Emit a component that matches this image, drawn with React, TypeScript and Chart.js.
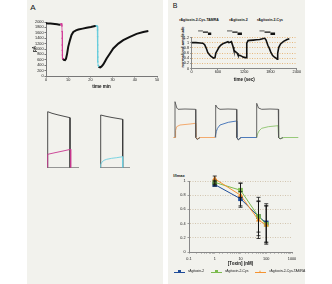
import React, { useEffect, useRef } from 'react';
import { Chart, registerables } from 'chart.js';

Chart.register(...registerables);

const FONT = "'Liberation Sans', Arial, Helvetica, sans-serif";
Chart.defaults.font.family = FONT;

// ---------------- Panel A (top): holding current vs time ----------------
const aXTicks = [0, 10, 20, 30, 40, 50];
const aYTicks = [0, 200, 400, 600, 800, 1000, 1200, 1400, 1600, 1800, 2000];
const aTimeMin = [0, 1, 2, 3, 4, 5, 6, 6.6, 6.7, 7.6, 8.0, 8.55, 9.0, 9.5, 10.0, 10.8, 11.5, 12.3, 13.5, 14.6, 16.5, 18.3, 20.2, 22.1, 22.6, 22.7, 23.7, 24.0, 24.5, 25.0, 25.8, 26.5, 27.3, 28.8, 30.3, 32.6, 34.8, 37.8, 40.8, 43.8, 46.1];
const aCurrentPA = [1950, 1945, 1940, 1932, 1925, 1915, 1900, 1905, null, 640, 600, 590, 640, 820, 1080, 1330, 1520, 1630, 1690, 1720, 1755, 1785, 1815, 1850, 1855, null, 360, 330, 320, 350, 430, 530, 650, 835, 1020, 1200, 1325, 1450, 1560, 1630, 1665];
const aTox1TimeMin = [6.6, 6.9, 7.1, 7.2, 7.25, 7.3, 7.3, 7.35, 7.4, 7.5, 7.6];
const aTox1PA = [1905, 1935, 1925, 1850, 1650, 1400, 1150, 950, 780, 660, 640];
const aTox2TimeMin = [22.6, 22.9, 23.1, 23.2, 23.25, 23.3, 23.3, 23.35, 23.4, 23.5, 23.7];
const aTox2PA = [1855, 1860, 1845, 1700, 1450, 1150, 900, 700, 520, 400, 360];

// ---------------- Panel A (bottom): current sweeps (ms, nA) ----------------
const aSw1CtrlT = [77, 77, 120, 180, 240, 300, 300];
const aSw1CtrlI = [0, 5.58, 5.42, 5.26, 5.12, 4.98, 0];
const aSw1ToxT = [77, 77, 150, 230, 307, 307];
const aSw1ToxI = [0, 1.32, 1.48, 1.65, 1.82, 0];
const aSw2CtrlT = [607, 607, 660, 720, 780, 827, 827];
const aSw2CtrlI = [0, 5.25, 5.12, 5.0, 4.9, 4.82, 0];
const aSw2ToxT = [607, 607, 620, 640, 667, 717, 767, 827, 827];
const aSw2ToxI = [0, 0.3, 0.55, 0.72, 0.82, 0.92, 0.98, 1.08, 0];
const aBaseT = [70, 390, 495, 600, 900];
const aBaseI = [0, 0, null, 0, 0];

// ---------------- Panel B (top): normalized amplitude vs time ----------------
const bToxinTitles = ['rAgitoxin-2-Cys-TAMRA', 'rAgitoxin-2', 'rAgitoxin-2-Cys'];
const bXTicks = [0, 600, 1200, 1800, 2400];
const bYTicks = [0, 0.2, 0.4, 0.6, 0.8, 1, 1.2];
const bTimeSec = [0, 100, 200, 260, 300, 335, 370, 410, 445, 505, 535, 555, 595, 630, 680, 740, 800, 830, 850, 880, 910, 950, 965, 1000, 1040, 1060, 1110, 1150, 1180, 1230, 1245, 1260, 1290, 1330, 1410, 1480, 1555, 1620, 1665, 1700, 1740, 1775, 1810, 1850, 1885, 1925, 1955, 1965, 1990, 2030, 2100, 2180, 2230];
const bAmplitude = [1.0, 1.0, 0.99, 0.98, 0.92, 0.79, 0.62, 0.53, 0.47, 0.4, 0.42, 0.6, 0.72, 0.83, 0.92, 0.98, 1.02, 1.04, 1.0, 1.02, 1.04, 0.83, 0.72, 0.65, 0.6, 0.52, 0.5, 0.47, 0.44, 0.42, 0.42, 0.98, 1.08, 1.09, 1.1, 1.11, 1.12, 1.15, 1.18, 1.1, 0.9, 0.78, 0.62, 0.5, 0.45, 0.4, 0.36, 0.6, 0.82, 0.95, 1.05, 1.12, 1.15];
// concentration-step glyphs: start, step2, step3, end (s)
const bRampTimes = [[150, 260, 375, 450], [810, 930, 1050, 1150], [1550, 1665, 1800, 1905]];
const bRampLevels = [1.455, 1.405, 1.347];

// ---------------- Panel B (middle): current sweeps (ms, nA) ----------------
const bCtrl1T = [100, 100, 118, 130, 200, 305, 308, 322, 350];
const bCtrl1I = [0, 3.58, 2.95, 2.82, 2.85, 2.82, 0, -0.2, 0];
const bTox1T = [83, 100, 106, 117, 150, 250, 305, 308, 320, 350, 500];
const bTox1I = [0, 0, 0.7, 1.08, 1.25, 1.35, 1.42, 0, -0.15, 0, 0];
const bCtrl2T = [507, 507, 525, 550, 630, 715, 718, 733, 760];
const bCtrl2I = [0, 3.25, 2.95, 2.82, 2.85, 2.82, 0, -0.25, 0];
const bTox2T = [500, 507, 513, 525, 550, 633, 715, 718, 733, 760, 917];
const bTox2I = [0, 0, 0.6, 0.92, 1.25, 1.52, 1.65, 0, -0.2, 0, 0];
const bCtrl3T = [917, 917, 935, 967, 1050, 1133, 1136, 1150, 1180];
const bCtrl3I = [0, 3.42, 2.95, 2.82, 2.85, 2.82, 0, -0.15, 0];
const bTox3T = [917, 925, 940, 967, 1033, 1130, 1136, 1155, 1190, 1333];
const bTox3I = [0, 0.35, 0.65, 0.92, 1.08, 1.18, 0, -0.1, 0, 0];

// ---------------- Panel B (bottom): dose-response ----------------
const doseConcNM = [1, 10, 50, 100];
const doseYTicks = [0, 0.2, 0.4, 0.6, 0.8, 1];
const doseLabels = ['rAgitoxin-2', 'rAgitoxin-2-Cys', 'rAgitoxin-2-Cys-TAMRA'];
const doseColors = ['#1f4c99', '#7cbb4e', '#f59331'];
const doseMarkers = ['rect', 'rect', 'triangle'];
const agtx2 = [0.95, 0.75, 0.5, 0.41];
const agtx2Err = [0.02, 0.1, 0.22, 0.27];
const agtx2Cys = [0.98, 0.87, 0.5, 0.39];
const agtx2CysErr = [0.03, 0.1, 0.27, 0.26];
const agtx2CysTamra = [1.03, 0.8, 0.45, 0.38];
const agtx2CysTamraErr = [0.04, 0.17, 0.26, 0.27];

const pts = (xs: number[], ys: (number | null)[]) => xs.map((x, i) => ({ x, y: ys[i] }));

const tickFont = { family: FONT, size: 3.8 };
const titleFont = { family: FONT, size: 4.5, weight: 'bold' as const };
const BG = '#f2f2ed';

const base = () => ({
  responsive: false,
  animation: false as const,
  devicePixelRatio: 1,
  events: [] as any[],
  plugins: { legend: { display: false }, tooltip: { enabled: false } },
});

const fixedTicks = (vals: number[]) => (s: any) => {
  s.ticks = vals.map((v) => ({ value: v }));
};

function configATop() {
  return {
    type: 'line',
    data: {
      datasets: [
        { data: pts(aTox1TimeMin, aTox1PA), borderColor: '#d23b98', backgroundColor: '#d23b98', borderWidth: 0.8, pointRadius: 0.8, pointBorderWidth: 0 },
        { data: pts(aTox2TimeMin, aTox2PA), borderColor: '#64cbdc', backgroundColor: '#64cbdc', borderWidth: 0.8, pointRadius: 0.8, pointBorderWidth: 0 },
        { data: pts(aTimeMin, aCurrentPA), borderColor: '#111', borderWidth: 2, pointRadius: 0, spanGaps: false },
      ],
    },
    options: {
      ...base(),
      layout: { padding: { top: 8, right: 5, left: 0, bottom: 0 } },
      scales: {
        x: {
          type: 'linear', min: 0, max: 50, afterBuildTicks: fixedTicks(aXTicks),
          ticks: { font: tickFont, color: '#222', padding: 0, maxRotation: 0, autoSkip: false, callback: (v: any) => String(v) },
          grid: { drawOnChartArea: false, tickLength: 1.5, color: '#777' },
          border: { color: '#777' },
          title: { display: true, text: 'time min', font: titleFont, color: '#111', padding: { top: 0, bottom: 1 } },
          afterFit: (s: any) => { s.height = 14; },
        },
        y: {
          type: 'linear', min: 0, max: 2000, afterBuildTicks: fixedTicks(aYTicks),
          ticks: { font: tickFont, color: '#222', padding: 1, autoSkip: false, callback: (v: any) => String(v) },
          grid: { drawOnChartArea: false, tickLength: 1.5, color: '#777' },
          border: { color: '#777' },
          title: { display: true, text: 'pA', font: titleFont, color: '#111', padding: { top: 4.3, bottom: 0 } },
          afterFit: (s: any) => { s.width = 18; },
        },
      },
    },
  };
}

function hiddenScales(xmin: number, xmax: number, ymin: number, ymax: number) {
  return {
    x: { type: 'linear', display: false, min: xmin, max: xmax },
    y: { type: 'linear', display: false, min: ymin, max: ymax },
  };
}

const traceDs = (xs: number[], ys: (number | null)[], color: string, width = 0.9) => ({
  data: pts(xs, ys), borderColor: color, backgroundColor: color, borderWidth: width, pointRadius: 0, clip: false as const, spanGaps: false,
});

function configABottom() {
  return {
    type: 'line',
    data: {
      datasets: [
        traceDs(aSw1ToxT, aSw1ToxI, '#c8378f'),
        traceDs(aSw2ToxT, aSw2ToxI, '#6fd0e0'),
        traceDs(aSw1CtrlT, aSw1CtrlI, '#3a3a3a'),
        traceDs(aSw2CtrlT, aSw2CtrlI, '#3a3a3a'),
        traceDs(aBaseT, aBaseI, '#8a8a8a'),
      ],
    },
    options: { ...base(), layout: { padding: 0 }, scales: hiddenScales(0, 950, -0.45, 6.25) },
  };
}

function rampDataset(level: number, idx: number, width: number) {
  const data: any[] = [];
  bRampTimes.forEach((r) => {
    data.push({ x: r[idx], y: level }, { x: r[idx + 1], y: level }, { x: r[idx + 1], y: null });
  });
  return { data, borderColor: '#111', borderWidth: width, pointRadius: 0, clip: false as const, spanGaps: false };
}

function configBTop() {
  return {
    type: 'line',
    data: {
      datasets: [
        { data: pts(bTimeSec, bAmplitude), borderColor: '#111', borderWidth: 1.6, pointRadius: 0 },
        rampDataset(bRampLevels[0], 0, 0.7),
        rampDataset(bRampLevels[1], 1, 1.2),
        rampDataset(bRampLevels[2], 2, 2.6),
      ],
    },
    options: {
      ...base(),
      layout: { padding: { top: 7.5, right: 4, left: 0, bottom: 0 } },
      scales: {
        x: {
          type: 'linear', min: 0, max: 2400, afterBuildTicks: fixedTicks(bXTicks),
          ticks: { font: tickFont, color: '#222', padding: 0, maxRotation: 0, autoSkip: false, callback: (v: any) => String(v) },
          grid: { drawOnChartArea: false, tickLength: 1.5, color: '#888' },
          border: { color: '#888' },
          title: { display: true, text: 'time (sec)', font: titleFont, color: '#111', padding: { top: 0, bottom: 0.3 } },
          afterFit: (s: any) => { s.height = 14.5; },
        },
        y: {
          type: 'linear', min: 0, max: 1.2, afterBuildTicks: fixedTicks(bYTicks),
          ticks: { font: tickFont, color: '#222', padding: 1, autoSkip: false, callback: (v: any) => String(Math.round(v * 10) / 10) },
          grid: { color: '#e2a862', lineWidth: 0.8, tickLength: 1.5, tickColor: '#888' },
          border: { color: '#888', dash: [1, 1.5] },
          afterFit: (s: any) => { s.width = 11.5; },
        },
      },
    },
  };
}

function configBMiddle() {
  return {
    type: 'line',
    data: {
      datasets: [
        traceDs(bCtrl1T, bCtrl1I, '#555'),
        traceDs(bCtrl2T, bCtrl2I, '#555'),
        traceDs(bCtrl3T, bCtrl3I, '#555'),
        traceDs(bTox1T, bTox1I, '#f3a25f'),
        traceDs(bTox2T, bTox2I, '#3b6db5'),
        traceDs(bTox3T, bTox3I, '#8cc46c'),
      ],
    },
    options: { ...base(), layout: { padding: 0 }, scales: hiddenScales(0, 1350, -0.75, 4.25) },
  };
}

const errorBars = {
  id: 'errorBars',
  afterDatasetsDraw(chart: any) {
    const { ctx, scales } = chart;
    const x = scales.x, y = scales.y;
    ctx.save();
    ctx.strokeStyle = '#111';
    ctx.lineWidth = 0.8;
    chart.data.datasets.forEach((ds: any) => {
      ds.data.forEach((p: any, i: number) => {
        const e = ds.errors[i];
        const px = x.getPixelForValue(p.x);
        const t = y.getPixelForValue(p.y + e);
        const b = y.getPixelForValue(p.y - e);
        ctx.beginPath();
        ctx.moveTo(px, t); ctx.lineTo(px, b);
        ctx.moveTo(px - 2, t); ctx.lineTo(px + 2, t);
        ctx.moveTo(px - 2, b); ctx.lineTo(px + 2, b);
        ctx.stroke();
      });
    });
    ctx.restore();
  },
};

function doseDs(i: number, ys: number[], errs: number[], order: number) {
  return {
    label: doseLabels[i], data: pts(doseConcNM, ys), errors: errs, borderColor: doseColors[i], backgroundColor: doseColors[i],
    borderWidth: 1, pointStyle: doseMarkers[i], pointRadius: doseMarkers[i] === 'triangle' ? 3 : 3.3, pointBorderWidth: 0, order, clip: false as const,
  };
}

function configDose() {
  return {
    type: 'line',
    data: {
      datasets: [
        doseDs(0, agtx2, agtx2Err, 3),
        doseDs(1, agtx2Cys, agtx2CysErr, 2),
        doseDs(2, agtx2CysTamra, agtx2CysTamraErr, 1),
      ],
    },
    plugins: [errorBars],
    options: {
      ...base(),
      layout: { padding: { top: 11, right: 8, left: 0, bottom: 17.8 } },
      scales: {
        x: {
          type: 'logarithmic', min: 0.1, max: 1000,
          ticks: {
            font: tickFont, color: '#222', padding: 2.7, autoSkip: false, maxRotation: 0,
            callback: (v: any) => {
              const l = Math.log10(v);
              return Math.abs(l - Math.round(l)) < 1e-6 ? String(v) : '';
            },
          },
          grid: { drawOnChartArea: false, tickLength: 1.5, color: '#888' },
          border: { color: '#888' },
          title: { display: true, text: '[Toxin] (nM)', font: titleFont, color: '#111', padding: { top: 0, bottom: 0 } },
          afterFit: (s: any) => { s.height = 14.2; },
        },
        y: {
          type: 'linear', min: 0, max: 1, afterBuildTicks: fixedTicks(doseYTicks),
          ticks: { font: tickFont, color: '#222', padding: 2, autoSkip: false, callback: (v: any) => String(Math.round(v * 10) / 10) },
          grid: { color: '#c9b99e', lineWidth: 0.8, tickLength: 1.5, tickColor: '#888' },
          border: { color: '#888', dash: [1, 1.5] },
          afterFit: (s: any) => { s.width = 21; },
        },
      },
    },
  };
}

type Box = { left: number; top: number; width: number; height: number };

function ChartCanvas({ box, make }: { box: Box; make: () => any }) {
  const ref = useRef<HTMLCanvasElement>(null);
  useEffect(() => {
    const chart = new Chart(ref.current as HTMLCanvasElement, make());
    return () => chart.destroy();
  }, []);
  return (
    <canvas
      ref={ref}
      width={box.width}
      height={box.height}
      style={{ position: 'absolute', left: box.left, top: box.top, width: box.width, height: box.height }}
    />
  );
}

function Text({ x, y, text, size, bold = false, rotate = 0 }: { x: number; y: number; text: string; size: number; bold?: boolean; rotate?: number }) {
  return (
    <div
      style={{
        position: 'absolute', left: x, top: y, transform: `translate(-50%, -50%) rotate(${rotate}deg)`,
        fontFamily: FONT, fontSize: size, fontWeight: bold ? 700 : 400, lineHeight: 1, whiteSpace: 'nowrap', color: '#111',
      }}
    >
      {text}
    </div>
  );
}

function DoseLegend() {
  return (
    <div style={{ position: 'absolute', left: 174, top: 269.5, height: 5, display: 'flex', alignItems: 'center', columnGap: 7 }}>
      {doseLabels.map((lab, i) => (
        <div key={lab} style={{ display: 'flex', alignItems: 'center' }}>
          <div style={{ position: 'relative', width: 11, height: 1, background: doseColors[i] }}>
            <div
              style={{
                position: 'absolute', left: 4, top: -1.5,
                width: 0, height: 0,
                ...(doseMarkers[i] === 'triangle'
                  ? { borderLeft: '1.7px solid transparent', borderRight: '1.7px solid transparent', borderBottom: `3px solid ${doseColors[i]}`, top: -1.5, left: 3.8 }
                  : { width: 3, height: 3, background: doseColors[i] }),
              }}
            />
          </div>
          <span style={{ marginLeft: 3, fontFamily: FONT, fontSize: 3.4, lineHeight: 1, color: '#222', whiteSpace: 'nowrap' }}>{lab}</span>
        </div>
      ))}
    </div>
  );
}

export default function App() {
  return (
    <div style={{ position: 'fixed', left: 0, top: 0, width: 332, height: 284, background: '#fff', overflow: 'hidden' }}>
      <div style={{ position: 'absolute', left: 27, top: 0, width: 136, height: 284, background: BG }} />
      <div style={{ position: 'absolute', left: 168, top: 0, width: 137, height: 284, background: BG }} />
      <Text x={33} y={8} text="A" size={8} />
      <Text x={175} y={4.5} text="B" size={7} />
      <ChartCanvas box={{ left: 28, top: 14, width: 134, height: 76 }} make={configATop} />
      <ChartCanvas box={{ left: 40, top: 105, width: 95, height: 67 }} make={configABottom} />
      <Text x={199} y={21} text={bToxinTitles[0]} size={3.5} bold />
      <Text x={238.5} y={21} text={bToxinTitles[1]} size={3.5} bold />
      <Text x={270} y={21} text={bToxinTitles[2]} size={3.5} bold />
      <Text x={183} y={46.5} text="normalized amplitude" size={4} bold rotate={-90} />
      <ChartCanvas box={{ left: 180, top: 30, width: 121, height: 53 }} make={configBTop} />
      <ChartCanvas box={{ left: 165, top: 95, width: 135, height: 50 }} make={configBMiddle} />
      <Text x={179} y={176} text="I/Imax" size={4} bold />
      <ChartCanvas box={{ left: 168, top: 170, width: 132, height: 114 }} make={configDose} />
      <DoseLegend />
    </div>
  );
}
